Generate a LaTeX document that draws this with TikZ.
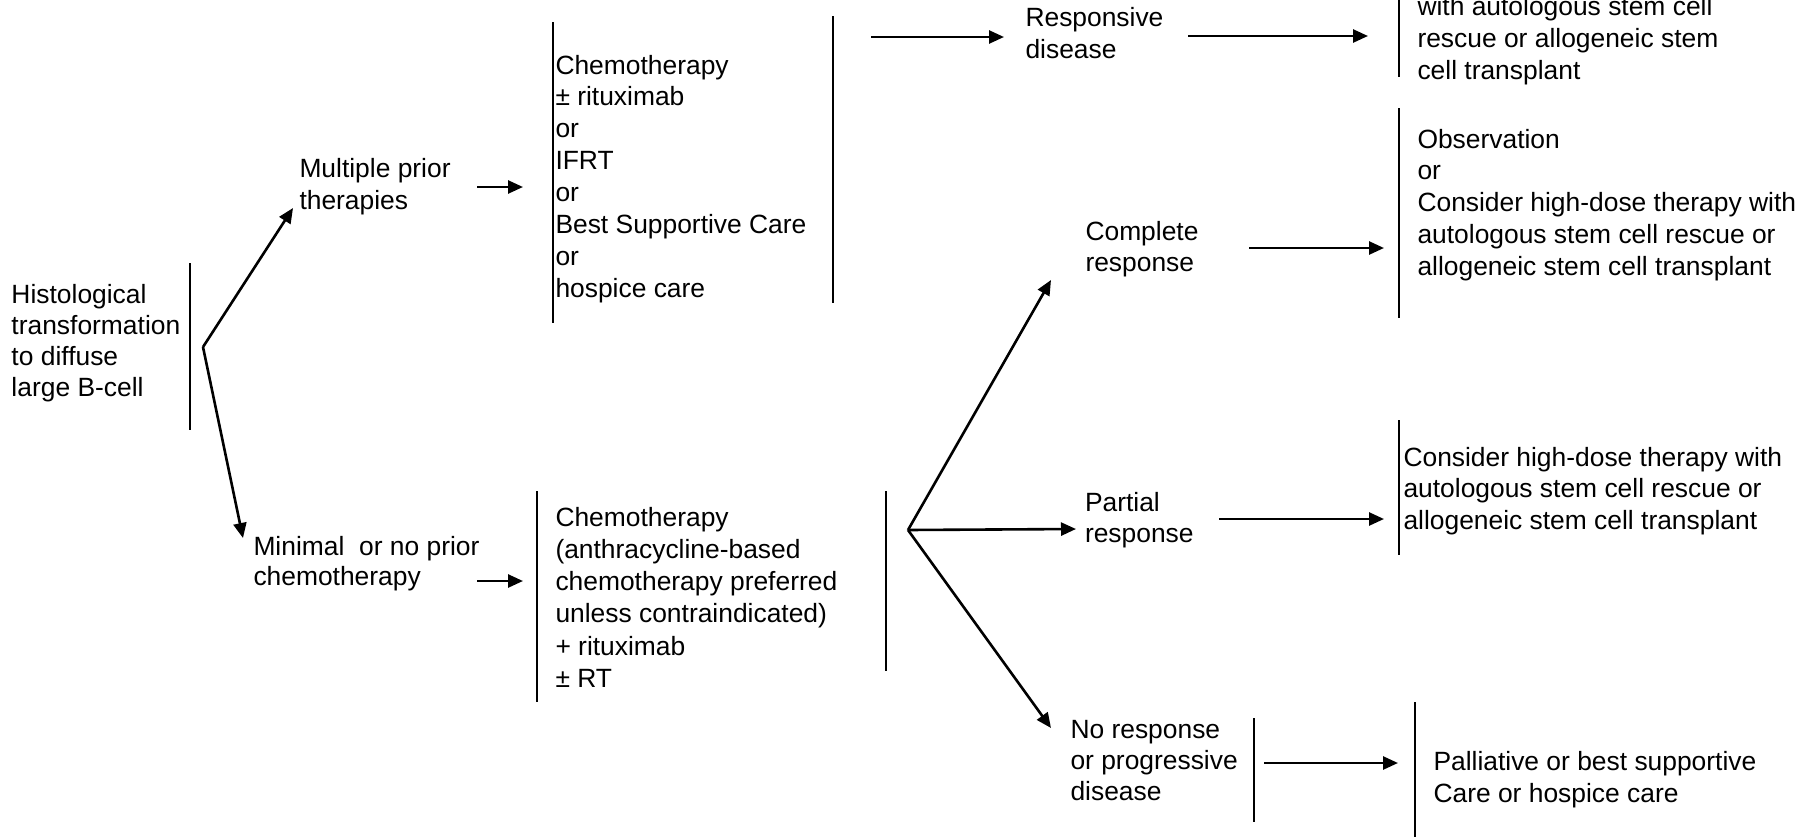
\documentclass[tikz,border=0pt]{standalone}
\usepackage{fontspec}
\setmainfont{Liberation Sans}
\usetikzlibrary{arrows.meta}
\begin{document}
\begin{tikzpicture}[x=1pt,y=-1pt,
  txt/.style={anchor=base west, inner sep=0pt, outer sep=0pt, align=left,
              font=\fontsize{26.4}{#1}\selectfont},
  txt/.default=31.8,
  bar/.style={line width=2.2pt},
  arr/.style={line width=2.6pt, -{Triangle[length=15pt,width=13pt]}}]
\useasboundingbox (0,0) rectangle (1820,836);

% ---- text nodes (placed at the baseline of their last line)
\node[txt=31.2] (hist) at (11.5,396.6) {Histological\\transformation\\to diffuse\\large B-cell};
\node[txt=31.7] (mult) at (299.5,209.2) {Multiple prior\\therapies};
\node[txt=30] (mini) at (253.5,585) {Minimal\ \ or no prior\\chemotherapy};
\node[txt=31.9] (tx1) at (555.5,297.3) {Chemotherapy\\± rituximab\\or\\IFRT\\or\\Best Supportive Care\\or\\hospice care};
\node[txt=32.3] (tx2) at (555.5,687.5) {Chemotherapy\\(anthracycline-based\\chemotherapy preferred\\unless contraindicated)\\+ rituximab\\± RT};
\node[txt=31.6] (resp) at (1025.5,58.3) {Responsive\\disease};
\node[txt=32] (topbox) at (1417.5,79.7) {with autologous stem cell\\rescue or allogeneic stem\\cell transplant};
\node[txt=31.5] (cr) at (1085.5,271.5) {Complete\\response};
\node[txt=31.8] (crbox) at (1417.5,275.2) {Observation\\or\\Consider high-dose therapy with\\autologous stem cell rescue or\\allogeneic stem cell transplant};
\node[txt=31] (pr) at (1085,542) {Partial\\response};
\node[txt=31.5] (prbox) at (1403.5,529) {Consider high-dose therapy with\\autologous stem cell rescue or\\allogeneic stem cell transplant};
\node[txt=31] (nr) at (1070.5,800) {No response\\or progressive\\disease};
\node[txt=32] (pal) at (1433.5,802) {Palliative or best supportive\\Care or hospice care};

% ---- coordinates
\coordinate (hb) at (203,347);
\coordinate (multTip) at (293,208);
\coordinate (miniTip) at (243,538);
\coordinate (multA) at (477,187);  \coordinate (multB) at (523,187);
\coordinate (miniA) at (477,581);  \coordinate (miniB) at (523,581);
\coordinate (respA) at (871,37);   \coordinate (respB) at (1004,37);
\coordinate (topA) at (1188,36);   \coordinate (topB) at (1368,36);
\coordinate (rb) at (908,530);
\coordinate (crTip) at (1051,280);
\coordinate (prTip) at (1076,529);
\coordinate (nrTip) at (1051,728);
\coordinate (crA) at (1249,248);   \coordinate (crB) at (1384,248);
\coordinate (prA) at (1219,519);   \coordinate (prB) at (1384,519);
\coordinate (nrA) at (1264,763);   \coordinate (nrB) at (1398,763);

% ---- bars
\draw[bar] (190,263) -- (190,430);
\draw[bar] (553,22) -- (553,323);
\draw[bar] (833,16) -- (833,303);
\draw[bar] (537,491) -- (537,702);
\draw[bar] (886,491) -- (886,671);
\draw[bar] (1399,-2) -- (1399,77);
\draw[bar] (1399,108) -- (1399,318);
\draw[bar] (1399,420) -- (1399,555);
\draw[bar] (1254,718) -- (1254,822);
\draw[bar] (1415,702) -- (1415,838);

% ---- connectors
\draw[arr] (hb) -- (multTip);
\draw[arr] (hb) -- (miniTip);
\draw[arr] (multA) -- (multB);
\draw[arr] (miniA) -- (miniB);
\draw[arr] (respA) -- (respB);
\draw[arr] (topA) -- (topB);
\draw[arr] (rb) -- (crTip);
\draw[arr] (rb) -- (prTip);
\draw[arr] (rb) -- (nrTip);
\draw[arr] (crA) -- (crB);
\draw[arr] (prA) -- (prB);
\draw[arr] (nrA) -- (nrB);
\end{tikzpicture}
\end{document}
